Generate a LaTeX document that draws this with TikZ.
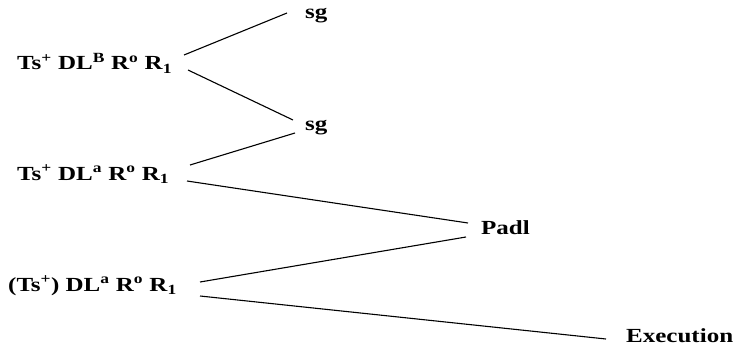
\documentclass[tikz,border=0pt]{standalone}
\usepackage{fontspec}
\setmainfont{Liberation Serif}[FakeStretch=1.25]
\begin{document}
\begin{tikzpicture}[x=1pt,y=-1pt,
  lbl/.style={anchor=base west,inner sep=0pt,font=\bfseries\fontsize{20}{24}\selectfont},
  conn/.style={line width=1.1pt}]
\useasboundingbox (0,0) rectangle (741,353);
\node[lbl] (r1) at (17,70) {Ts\textsuperscript{+} DL\textsuperscript{B} R\textsuperscript{o} R\textsubscript{1}};
\node[lbl] (r2) at (17,180) {Ts\textsuperscript{+} DL\textsuperscript{a} R\textsuperscript{o} R\textsubscript{1}};
\node[lbl] (r3) at (8,291) {(Ts\textsuperscript{+}) DL\textsuperscript{a} R\textsuperscript{o} R\textsubscript{1}};
\node[lbl] (sg1) at (305,19) {sg};
\node[lbl] (sg2) at (305,130) {sg};
\node[lbl] (padl) at (481,234) {Padl};
\node[lbl] (exe) at (626,342) {Execution};
% connector end points
\coordinate (r1u) at (184,55);
\coordinate (r1d) at (188,70);
\coordinate (r2u) at (190,165);
\coordinate (r2d) at (187,181);
\coordinate (r3u) at (200,282);
\coordinate (r3d) at (200,296);
\coordinate (sg1w) at (287,13);
\coordinate (sg2a) at (293,120);
\coordinate (sg2b) at (295,133);
\coordinate (padla) at (468,223);
\coordinate (padlb) at (466,237);
\coordinate (exew) at (606,339);
\draw[conn] (r1u) -- (sg1w);
\draw[conn] (r1d) -- (sg2a);
\draw[conn] (r2u) -- (sg2b);
\draw[conn] (r2d) -- (padla);
\draw[conn] (r3u) -- (padlb);
\draw[conn] (r3d) -- (exew);
\end{tikzpicture}
\end{document}
